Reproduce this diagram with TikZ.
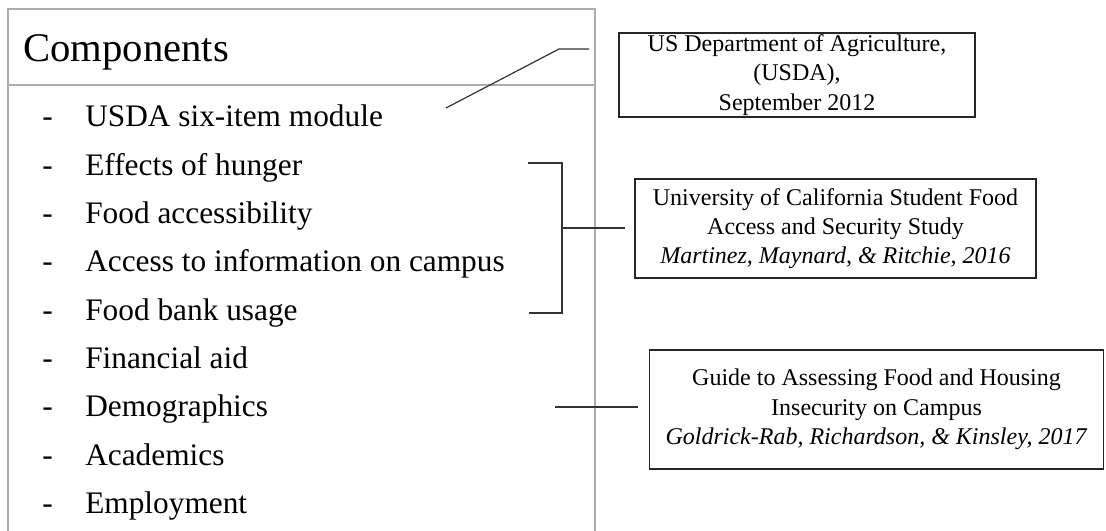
\documentclass[tikz,border=0pt]{standalone}
\usepackage{fontspec}
\setmainfont{Liberation Serif}
\usetikzlibrary{positioning}

\begin{document}
\begin{tikzpicture}[
        x=0.75pt, y=-0.75pt,
        frame/.style={draw=gray!65, line width=1.5pt},
        item/.style={anchor=base west, inner sep=0pt, font=\fontsize{23.5}{28}\selectfont},
        source/.style={rectangle, draw=black!85, line width=0.9pt, align=center, inner sep=0pt,
                       font=\fontsize{18}{22}\selectfont},
        link/.style={draw=black!80, line width=0.9pt}
    ]
        \useasboundingbox (0,0) rectangle (1106,531);

        % --- COMPONENTS PANEL ---
        \draw[frame] (8,531) -- (8,9) -- (595,9) -- (595,531);
        \draw[frame] (8,85) -- (595,85);
        \node[anchor=base west, inner sep=0pt, font=\fontsize{30.5}{36}\selectfont] (title) at (23,62) {Components};

        \foreach \txt [count=\i] in {USDA six-item module, Effects of hunger, Food accessibility,
                Access to information on campus, Food bank usage, Financial aid,
                Demographics, Academics, Employment} {
            \node[item] (dash\i) at (42, 78.7+48.3*\i) {-};
            \node[item] (item\i) at (85, 78.7+48.3*\i) {\txt};
        }

        % --- SOURCES ---
        \node[source, minimum width=267pt, minimum height=63pt] (usda) at (797,75)
            {US Department of Agriculture,\\(USDA),\\September 2012};
        \node[source, minimum width=300.75pt, minimum height=74.25pt] (uc) at (835.5,228.5)
            {University of California Student Food\\Access and Security Study\\\textit{Martinez, Maynard, \& Ritchie, 2016}};
        \node[source, minimum width=341pt, minimum height=89.25pt] (guide) at (876.5,409.5)
            {Guide to Assessing Food and Housing\\Insecurity on Campus\\\textit{Goldrick-Rab, Richardson, \& Kinsley, 2017}};

        % --- CONNECTIONS ---
        % USDA pointer
        \coordinate (usdaA) at (589,49);
        \coordinate (usdaB) at (559,49);
        \coordinate (usdaC) at (446,108);
        \draw[link] (usdaA) -- (usdaB) -- (usdaC);

        % Bracket for the UC study
        \coordinate (brTop) at (528,163);
        \coordinate (brMid) at (562,228);
        \coordinate (brBot) at (529,313);
        \draw[link] (brTop) -| (brMid) |- (brBot);
        \draw[link, shorten >=7pt] (brMid) -- (uc.west |- brMid);

        % Guide pointer
        \coordinate (guideA) at (555,407);
        \draw[link, shorten >=8pt] (guideA) -- (guide.west |- guideA);

    \end{tikzpicture}
\end{document}
